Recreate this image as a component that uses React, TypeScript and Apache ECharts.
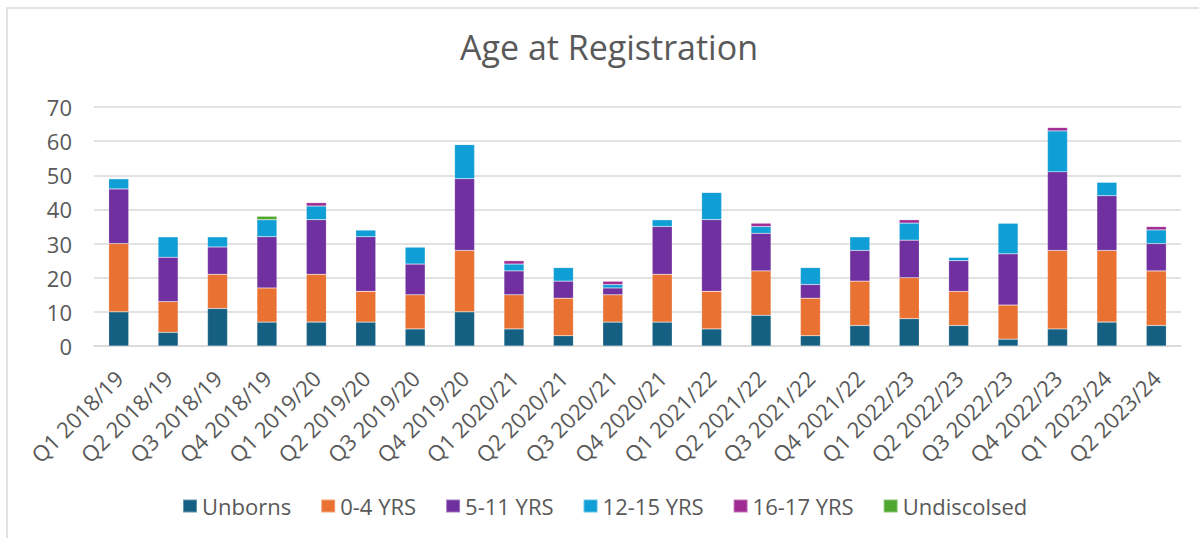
import React, { useEffect, useRef } from "react";
import * as echarts from "echarts";

const categories = [
  "Q1 2018/19", "Q2 2018/19", "Q3 2018/19", "Q4 2018/19",
  "Q1 2019/20", "Q2 2019/20", "Q3 2019/20", "Q4 2019/20",
  "Q1 2020/21", "Q2 2020/21", "Q3 2020/21", "Q4 2020/21",
  "Q1 2021/22", "Q2 2021/22", "Q3 2021/22", "Q4 2021/22",
  "Q1 2022/23", "Q2 2022/23", "Q3 2022/23", "Q4 2022/23",
  "Q1 2023/24", "Q2 2023/24",
];

const unborns = [10, 4, 11, 7, 7, 7, 5, 10, 5, 3, 7, 7, 5, 9, 3, 6, 8, 6, 2, 5, 7, 6];
const yrs0to4 = [20, 9, 10, 10, 14, 9, 10, 18, 10, 11, 8, 14, 11, 13, 11, 13, 12, 10, 10, 23, 21, 16];
const yrs5to11 = [16, 13, 8, 15, 16, 16, 9, 21, 7, 5, 2, 14, 21, 11, 4, 9, 11, 9, 15, 23, 16, 8];
const yrs12to15 = [3, 6, 3, 5, 4, 2, 5, 10, 2, 4, 1, 2, 8, 2, 5, 4, 5, 1, 9, 12, 4, 4];
const yrs16to17 = [0, 0, 0, 0, 1, 0, 0, 0, 1, 0, 1, 0, 0, 1, 0, 0, 1, 0, 0, 1, 0, 1];
const undisclosed = [0, 0, 0, 1, 0, 0, 0, 0, 0, 0, 0, 0, 0, 0, 0, 0, 0, 0, 0, 0, 0, 0];

const yTicks = { min: 0, max: 70, interval: 10 };

const seriesDefs = [
  { name: "Unborns", data: unborns, color: "#156082" },
  { name: "0-4 YRS", data: yrs0to4, color: "#E97132" },
  { name: "5-11 YRS", data: yrs5to11, color: "#7030A0" },
  { name: "12-15 YRS", data: yrs12to15, color: "#0F9ED5" },
  { name: "16-17 YRS", data: yrs16to17, color: "#A02B93" },
  { name: "Undiscolsed", data: undisclosed, color: "#4EA72E" },
];

const FONT = "'Open Sans', 'Noto Sans', sans-serif";
const TEXT = "#595959";

export default function App() {
  const ref = useRef<HTMLDivElement>(null);
  useEffect(() => {
    if (!ref.current) return;
    const chart = echarts.init(ref.current, null, { renderer: "svg" });
    chart.setOption({
      animation: false,
      backgroundColor: "#ffffff",
      textStyle: { fontFamily: FONT, color: TEXT },
      title: {
        text: "Age at Registration",
        left: 604,
        textAlign: "center",
        top: 25,
        textStyle: { fontFamily: FONT, fontSize: 34, fontWeight: "normal", color: TEXT },
      },
      graphic: [
        {
          type: "rect",
          shape: { x: 7, y: 8, width: 1300, height: 600 },
          style: { fill: "none", stroke: "#d9d9d9", lineWidth: 1.5 },
          silent: true,
          z: -1,
        },
      ],
      legend: {
        left: 177,
        top: 490,
        itemWidth: 14,
        itemHeight: 13,
        itemGap: 29,
        icon: "rect",
        textStyle: { fontFamily: FONT, fontSize: 22, color: TEXT },
        data: seriesDefs.map((s) => s.name),
      },
      grid: { left: 94, right: 18, top: 107, bottom: 192 },
      xAxis: {
        type: "category",
        data: categories,
        axisLine: { lineStyle: { color: "#d9d9d9", width: 1.5 } },
        axisTick: { show: false },
        axisLabel: {
          rotate: 45,
          interval: 0,
          fontFamily: FONT,
          fontSize: 22,
          color: TEXT,
          margin: 28,
        },
      },
      yAxis: {
        type: "value",
        min: yTicks.min,
        max: yTicks.max,
        interval: yTicks.interval,
        axisLine: { show: false },
        axisTick: { show: false },
        splitLine: { lineStyle: { color: "#d9d9d9", width: 1.5 } },
        axisLabel: { fontFamily: FONT, fontSize: 22, color: TEXT, margin: 22 },
      },
      series: seriesDefs.map((s) => ({
        name: s.name,
        type: "bar",
        stack: "total",
        barWidth: 20,
        data: s.data,
        itemStyle: { color: s.color, borderColor: "rgba(255,255,255,0.35)", borderWidth: 0.5 },
      })),
    });
    return () => chart.dispose();
  }, []);
  return (
    <div
      ref={ref}
      style={{ position: "fixed", left: 0, top: 0, width: 1199, height: 538 }}
    />
  );
}
